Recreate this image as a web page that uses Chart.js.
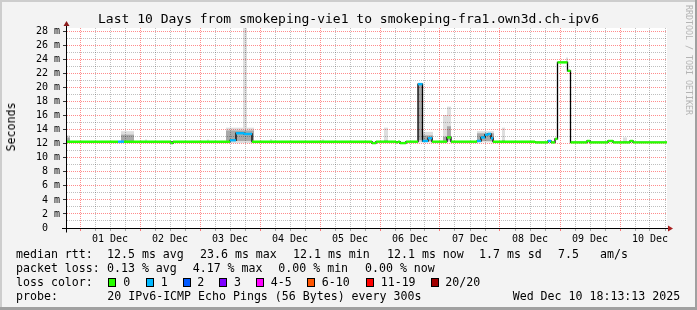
<!DOCTYPE html>
<html><head><meta charset="utf-8">
<script src="https://cdn.jsdelivr.net/npm/chart.js@4.4.1/dist/chart.umd.min.js"></script>
<style>
html,body{margin:0;padding:0;background:#f3f3f3;}
#wrap{position:relative;width:697px;height:310px;overflow:hidden;font-family:"DejaVu Sans Mono",monospace;color:#000;}
#c{position:absolute;left:0;top:0;}
.t{position:absolute;white-space:pre;font-size:11.6px;line-height:14px;}
.box{position:absolute;width:6px;height:7px;border:1px solid #000;}
#title{position:absolute;left:0;width:697px;top:11px;text-align:center;font-size:13px;line-height:16px;white-space:pre;}
#ylab{position:absolute;left:11px;top:127px;font-size:11.6px;line-height:12px;white-space:pre;transform:translate(-50%,-50%) rotate(-90deg);}
#credit{position:absolute;left:684px;top:5px;font-size:8.3px;line-height:9px;writing-mode:vertical-rl;color:#b4b4b4;white-space:pre;}
</style></head>
<body><div id="wrap"><canvas id="c" width="697" height="310"></canvas>
<div id="title">Last 10 Days from smokeping-vie1 to smokeping-fra1.own3d.ch-ipv6</div>
<div id="ylab">Seconds</div>
<div id="credit">RRDTOOL / TOBI OETIKER</div>
</div>
<script>
// ---- data (x = hours since 01 Dec 00:00) ----
const dayLabels = ['01 Dec','02 Dec','03 Dec','04 Dec','05 Dec','06 Dec','07 Dec','08 Dec','09 Dec','10 Dec'];
const rangeStart = -5.2;
const rangeEnd = 234.8;

const medianStart = [-5.2, 15.2, 17.6, 36.4, 37.2, 60.0, 62.4, 65.6, 68.8, 116.8, 118.4, 126.4, 127.2, 128.0, 130.4,
  135.2, 137.0, 139.2, 140.8, 146.8, 148.4, 158.8, 160.4, 162.0, 163.2, 164.4, 165.2, 182.0, 187.2, 188.4, 190.0,
  191.0, 195.0, 196.2, 202.8, 204.0, 211.2, 213.2, 220.0, 221.2];
const medianMs = [12.3, 12.3, 12.3, 12.1, 12.3, 12.5, 13.5, 13.4, 12.3, 12.1, 12.3, 12.2, 12.3, 12.1, 12.3,
  20.5, 12.4, 12.8, 12.3, 12.9, 12.3, 12.4, 12.9, 13.3, 13.4, 12.8, 12.3, 12.2, 12.4, 12.2, 12.7,
  23.6, 22.4, 12.2, 12.4, 12.2, 12.4, 12.2, 12.4, 12.2];
const medianLoss = [0, 1, 0, 0, 0, 1, 1, 1, 0, 0, 0, 0, 0, 0, 0,
  1, 1, 1, 0, 0, 0, 1, 1, 1, 1, 1, 0, 0, 1, 0, 0,
  0, 0, 0, 0, 0, 0, 0, 0, 0];

const smokeStart = [-5.2, 16.4, 26.0, 50.8, 58.4, 65.2, 66.8, 76.0, 96.8, 121.6, 135.2, 137.2, 145.2, 146.8, 158.8, 168.8, 194.4, 217.2];
const smokeEnd   = [-4.0, 21.6, 26.8, 51.6, 65.2, 66.8, 69.6, 76.8, 97.6, 123.2, 137.2, 141.2, 146.8, 148.4, 165.6, 170.0, 195.2, 218.8];
const smokeMin   = [12.2, 12.2, 12.3, 12.3, 12.1, 12.1, 12.1, 12.3, 12.3, 12.3, 12.2, 12.2, 12.3, 12.3, 12.2, 12.3, 23.6, 12.3];
const smokeMax   = [13.2, 13.8, 12.6, 12.6, 14.3, 28.5, 14.3, 12.7, 12.6, 14.3, 20.7, 13.7, 16.1, 17.3, 13.8, 14.3, 24.3, 12.9];
const smokeQ1    = [12.3, 12.4, 12.3, 12.3, 12.4, 12.4, 12.4, 12.3, 12.3, 12.3, 12.5, 12.4, 12.4, 12.5, 12.4, 12.3, 23.6, 12.3];
const smokeQ3    = [12.9, 13.3, 12.4, 12.4, 13.9, 13.9, 13.9, 12.4, 12.4, 12.5, 20.5, 13.2, 13.0, 14.5, 13.5, 12.5, 23.7, 12.4];

const lossLabels = ['0','1','2','3','4-5','6-10','11-19','20/20'];
const rttStats = ['12.5 ms avg','23.6 ms max','12.1 ms min','12.1 ms now','1.7 ms sd','7.5','am/s'];
const lossStats = ['0.13 % avg','4.17 % max','0.00 % min','0.00 % now'];
const probeText = '20 IPv6-ICMP Echo Pings (56 Bytes) every 300s';
const stampText = 'Wed Dec 10 18:13:13 2025';

// ---- styles ----
const lossColors = ['#26ff00','#00b8ff','#0059ff','#7e00ff','#ff00ff','#ff5500','#ff0000','#a10000'];
function lossIndex(l){ if(l<=3) return l; if(l<=5) return 4; if(l<=10) return 5; if(l<=19) return 6; return 7; }
const MAJOR = 'rgba(255,0,0,0.45)', MINOR = 'rgba(0,0,0,0.25)';

// ---- overlay text ----
const wrap = document.getElementById('wrap');
function addText(x, y, s){ const d=document.createElement('div'); d.className='t'; d.style.left=x+'px'; d.style.top=y+'px'; d.textContent=s; wrap.appendChild(d); }
const rows = [246.5, 260.5, 274.5, 288.5];
addText(16, rows[0], 'median rtt:');
[107, 200, 293, 387, 479, 558, 600].forEach((x,i)=>addText(x, rows[0], rttStats[i]));
addText(16, rows[1], 'packet loss:');
[107, 192.7, 278.3, 365].forEach((x,i)=>addText(x, rows[1], lossStats[i]));
addText(16, rows[2], 'loss color:');
const boxX = [108, 145.7, 182.7, 219.3, 256, 307, 365.7, 430.7];
const labX = [123.3, 160.7, 197.3, 234, 270.7, 321.7, 380.7, 445.3];
lossLabels.forEach((s,i)=>{
  const b=document.createElement('div'); b.className='box'; b.style.left=Math.round(boxX[i])+'px'; b.style.top='278px'; b.style.background=lossColors[i]; wrap.appendChild(b);
  addText(labX[i], rows[2], s);
});
addText(16, rows[3], 'probe:');
addText(107.3, rows[3], probeText);
addText(512.7, rows[3], stampText);

// ---- build series ----
const medPts = [], ptLoss = [];
for (let i=0;i<medianStart.length;i++){
  const e = i+1<medianStart.length ? medianStart[i+1] : rangeEnd;
  medPts.push({x:medianStart[i], y:medianMs[i]}); ptLoss.push(medianLoss[i]);
  medPts.push({x:e, y:medianMs[i]}); ptLoss.push(medianLoss[i]);
}
const datasets = [];
datasets.push({ data: medPts, borderColor: lossColors[0], borderWidth: 2.4, pointRadius: 0, fill: false, order: 0, borderCapStyle:'butt',
  segment: { borderColor: c => c.p0.parsed.x === c.p1.parsed.x ? 'rgba(0,0,0,0)' : lossColors[lossIndex(ptLoss[c.p0DataIndex])] } });
datasets.push({ data: medPts, borderColor: '#000', borderWidth: 1.3, pointRadius: 0, fill: false, order: 1 });
for (let i=0;i<smokeStart.length;i++){
  datasets.push({ data:[{x:smokeStart[i],y:smokeMax[i]},{x:smokeEnd[i],y:smokeMax[i]}], fill:{value:smokeMin[i]},
    backgroundColor:'rgba(0,0,0,0.13)', borderColor:'rgba(0,0,0,0)', borderWidth:0, pointRadius:0, order:3 });
  datasets.push({ data:[{x:smokeStart[i],y:smokeQ3[i]},{x:smokeEnd[i],y:smokeQ3[i]}], fill:{value:smokeQ1[i]},
    backgroundColor:'rgba(0,0,0,0.24)', borderColor:'rgba(0,0,0,0)', borderWidth:0, pointRadius:0, order:2 });
}

const framePlugin = {
  id:'frame',
  beforeDraw(chart){
    const {ctx, chartArea:a, width, height} = chart;
    ctx.save();
    ctx.fillStyle='#f3f3f3'; ctx.fillRect(0,0,width,height);
    ctx.fillStyle='#ffffff'; ctx.fillRect(a.left,a.top,a.right-a.left,a.bottom-a.top);
    ctx.fillStyle='#cdcdcd'; ctx.fillRect(0,0,width,2); ctx.fillRect(0,0,2,height);
    ctx.fillStyle='#a0a0a0'; ctx.fillRect(0,height-3,width,3); ctx.fillRect(width-2,0,2,height);
    ctx.restore();
  },
  afterDraw(chart){
    const {ctx, chartArea:a} = chart;
    ctx.save();
    ctx.strokeStyle='#000'; ctx.lineWidth=1;
    const ax = Math.round(a.left)-0.5, ay = Math.round(a.bottom)+0.5;
    ctx.beginPath(); ctx.moveTo(ax, ay+4); ctx.lineTo(ax, a.top-4); ctx.stroke();
    ctx.beginPath(); ctx.moveTo(a.left-5, ay); ctx.lineTo(a.right+3, ay); ctx.stroke();
    ctx.fillStyle='#8b1c1c';
    ctx.beginPath(); ctx.moveTo(ax-3, a.top-2); ctx.lineTo(ax+3, a.top-2); ctx.lineTo(ax, a.top-7); ctx.closePath(); ctx.fill();
    ctx.fillStyle='#a82020';
    ctx.beginPath(); ctx.moveTo(a.right+1, ay-3); ctx.lineTo(a.right+1, ay+3); ctx.lineTo(a.right+6, ay); ctx.closePath(); ctx.fill();
    ctx.restore();
  }
};

const tickFont = { family:'DejaVu Sans Mono', size:10 };
new Chart(document.getElementById('c'), {
  type:'line',
  data:{ datasets },
  plugins:[framePlugin],
  options:{
    responsive:false, animation:false, events:[],
    layout:{ padding:{ left:0, right:30, top:28, bottom:62 } },
    plugins:{ legend:{display:false}, tooltip:{enabled:false}, title:{display:false} },
    scales:{
      x:{ type:'linear', min:rangeStart, max:rangeEnd,
        afterFit(s){ s.height = 20; },
        afterBuildTicks(s){ const t=[]; for(let h=0;h<=rangeEnd;h+=6) t.push({value:h}); s.ticks=t; },
        grid:{ color:c=>(c.tick && c.tick.value%24===0)?MAJOR:MINOR, tickLength:3,
               tickColor:c=>(c.tick && c.tick.value%24===0)?'rgba(255,0,0,0.5)':'rgba(0,0,0,0.3)' },
        border:{ display:false, dash:[1,1] },
        ticks:{ autoSkip:false, maxRotation:0, minRotation:0, padding:2, color:'#000', font:tickFont,
          callback:v=> (v%24===12) ? (dayLabels[Math.floor(v/24)]||'') : '' }
      },
      y:{ type:'linear', min:0, max:28.5,
        afterFit(s){ s.width = 67; },
        afterBuildTicks(s){ const t=[]; for(let v=0;v<=28;v++) t.push({value:v}); s.ticks=t; },
        grid:{ color:c=>!c.tick||c.tick.value===0?'rgba(0,0,0,0)':(c.tick.value%2===0?MAJOR:MINOR), tickLength:4,
               tickColor:c=>(c.tick && c.tick.value%2===0)?'#333':'rgba(0,0,0,0)' },
        border:{ display:false, dash:[1,1] },
        ticks:{ autoSkip:false, padding:3, color:'#000', font:tickFont,
          callback:v=> v===0 ? '0  ' : (v%2===0 ? v+' m' : '') }
      }
    }
  }
});
</script>
</body></html>
